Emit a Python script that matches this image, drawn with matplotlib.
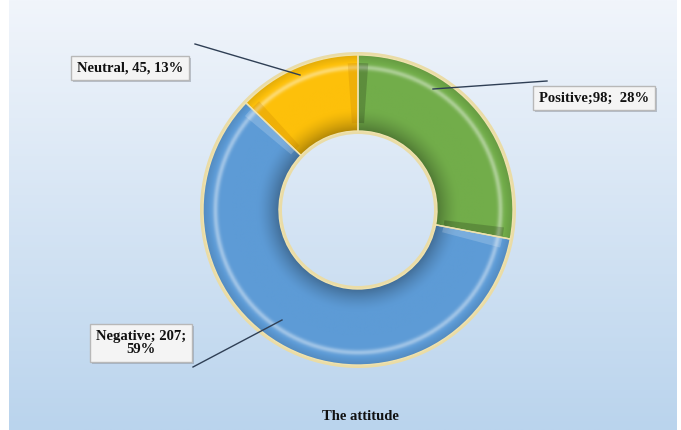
import matplotlib.pyplot as plt
import numpy as np
from matplotlib.patches import Wedge, Rectangle
import matplotlib.colors as mcolors

# Survey answers, clockwise from 12 o'clock
categories = ["Positive", "Negative", "Neutral"]
counts = [98, 207, 45]
percents = [28, 59, 13]
label_texts = ["Positive;98;  28%", "Negative; 207;\n59%", "Neutral, 45, 13%"]
slice_colors = ["#72ad4a", "#5d9bd6", "#fdc00a"]
edge_tints = ["black", "white", "#b06a00"]
title = "The attitude"

W, H = 681, 430
fig = plt.figure(figsize=(W / 100, H / 100), dpi=100)
fig.patch.set_facecolor("white")

ax = fig.add_axes([0, 0, 1, 1])
ax.set_xlim(0, W)
ax.set_ylim(0, H)
ax.set_aspect("equal")
ax.axis("off")

# Vertical background gradient (light at top, pale blue at bottom)
top = np.array(mcolors.to_rgb("#f1f5fb"))
bottom = np.array(mcolors.to_rgb("#bad4ed"))
t = np.linspace(0, 1, 256)[:, None]
grad = top * (1 - t) + bottom * t
grad = np.repeat(grad[:, None, :], 2, axis=1)
ax.imshow(grad, extent=(9, 677, 0, H), aspect="auto", origin="upper", zorder=0)

cx, cy = 358, 220
R = 155
r_in = 79

# Tan outline around the ring
ax.add_patch(Wedge((cx, cy), R + 3, 0, 360, width=R - r_in + 6,
                   facecolor="#eadca6", edgecolor="none", zorder=1))

total = sum(counts)
angles = []
start = 90.0
for c in counts:
    sweep = 360.0 * c / total
    angles.append((start - sweep, start))
    start -= sweep

# Radial bevel profile: dark near the inner edge, highlight near the outer edge
n = 400
xs = np.linspace(cx - R, cx + R, n)
ys = np.linspace(cy - R, cy + R, n)
gx, gy = np.meshgrid(xs, ys)
u = (np.hypot(gx - cx, gy - cy) - r_in) / (R - r_in)
f = np.where(u < 0.3, -0.30 * (1 - u / 0.3) ** 1.5, 0.0)
f = f + 0.40 * np.exp(-((u - 0.84) / 0.035) ** 2)
f = np.where(u > 0.9, f - 0.10 * (u - 0.9) / 0.1, f)
f = np.clip(f, -1, 1)[..., None]


def shaded(color):
    rgb = np.array(mcolors.to_rgb(color))
    light = rgb + (1 - rgb) * np.clip(f, 0, 1)
    dark = rgb * (1 + np.clip(f, -1, 0))
    return np.where(f >= 0, light, dark)


for (a0, a1), col, tint in zip(angles, slice_colors, edge_tints):
    wedge = Wedge((cx, cy), R, a0, a1, width=R - r_in, facecolor="none",
                  edgecolor="none", transform=ax.transData)
    ax.add_patch(wedge)
    im = ax.imshow(shaded(col), extent=(cx - R, cx + R, cy - R, cy + R),
                   origin="lower", zorder=2, interpolation="bilinear")
    im.set_clip_path(wedge)
    # bevelled slice ends
    for e0, e1 in ((a0, a0 + 4), (a1 - 4, a1)):
        ax.add_patch(Wedge((cx, cy), R - 8, e0, e1, width=R - r_in - 16,
                           facecolor=tint, alpha=0.18, edgecolor="none", zorder=3))
    # thin light separator between slices
    ax.add_patch(Wedge((cx, cy), R, a0, a1, width=R - r_in, facecolor="none",
                       edgecolor="#efe2ae", linewidth=1.0, zorder=4))

# Callout leader lines (x, y in pixel coords measured from the top)
leaders = [((433, 89), (547, 81)), ((282, 320), (193, 367)), ((300, 75), (195, 44))]
for (p0, p1) in leaders:
    ax.plot([p0[0], p1[0]], [H - p0[1], H - p1[1]], color="#2f3f55", lw=1.0, zorder=5)

label_pos = [(594, 98), (141, 343), (130, 68)]
box = dict(boxstyle="square,pad=0.4", facecolor="#f4f4f4", edgecolor="#b8b8b8", linewidth=1.0)
labels = []
for txt, (x, y) in zip(label_texts, label_pos):
    labels.append(ax.text(x, H - y, txt, fontsize=10.5, fontweight="bold",
                          family="Liberation Serif", ha="center", va="center",
                          color="#111111", linespacing=1.05, bbox=box, zorder=6))

# soft drop shadow behind each label box
fig.canvas.draw()
for lab in labels:
    bb = lab.get_bbox_patch().get_window_extent()
    ax.add_patch(Rectangle((bb.x0 + 2, bb.y0 - 2), bb.width, bb.height,
                           facecolor="#7f8794", alpha=0.45, edgecolor="none", zorder=5.5))

ax.text(360, H - 417, title, fontsize=10.5, fontweight="bold", family="Liberation Serif",
        ha="center", va="center", color="#111111", zorder=6)

fig.savefig("out.png", dpi=100)
